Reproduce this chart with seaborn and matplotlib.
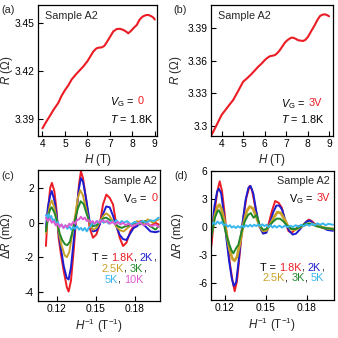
import numpy as np
import pandas as pd
import matplotlib
matplotlib.use("Agg")
import matplotlib.pyplot as plt
import matplotlib.transforms as mtransforms
import seaborn as sns

# ---------------- data ----------------
a_H = [4.0, 4.15, 4.33, 4.5, 4.7, 4.85, 5.0, 5.15, 5.3, 5.5, 5.66, 5.82, 6.0, 6.13, 6.26, 6.4,
       6.52, 6.63, 6.75, 6.87, 7.0, 7.15, 7.3, 7.45, 7.6, 7.72, 7.82, 7.95, 8.08, 8.2, 8.33,
       8.45, 8.6, 8.72, 8.85, 8.95, 9.0]
a_R = [3.3843, 3.388, 3.392, 3.396, 3.400, 3.4045, 3.408, 3.411, 3.4147, 3.418, 3.4204, 3.4228,
       3.426, 3.429, 3.432, 3.434, 3.4345, 3.4346, 3.4355, 3.438, 3.441, 3.4445, 3.446, 3.4462,
       3.4455, 3.4445, 3.4434, 3.445, 3.447, 3.4486, 3.452, 3.4537, 3.4547, 3.4548, 3.454,
       3.453, 3.452]

b_H = [3.51, 3.75, 4.0, 4.27, 4.54, 4.77, 5.0, 5.2, 5.39, 5.55, 5.7, 5.85, 6.01, 6.13, 6.25,
       6.37, 6.48, 6.6, 6.71, 6.83, 6.94, 7.05, 7.17, 7.25, 7.33, 7.45, 7.56, 7.68, 7.79, 7.9,
       8.02, 8.17, 8.33, 8.45, 8.57, 8.68, 8.8, 8.9, 9.0]
b_R = [3.2908, 3.300, 3.310, 3.317, 3.3238, 3.332, 3.3405, 3.344, 3.3476, 3.351, 3.3543, 3.357,
       3.3604, 3.3625, 3.364, 3.3645, 3.365, 3.367, 3.3696, 3.373, 3.3763, 3.3785, 3.3802,
       3.381, 3.381, 3.380, 3.3787, 3.3783, 3.378, 3.379, 3.3818, 3.387, 3.3924, 3.397,
       3.4007, 3.402, 3.4025, 3.4018, 3.4007]

# panel (c): V_G = 0
c_18 = [(0.1115, -1.35), (0.113, 0.68), (0.1148, 2.03), (0.1161, 2.32), (0.118, 1.84), (0.1195, 0.87),
        (0.1213, -0.87), (0.1231, -1.84), (0.1252, -2.8), (0.1277, -3.77), (0.129, -4.0), (0.1308, -3.38),
        (0.1329, -1.64), (0.135, 0.48), (0.137, 2.22), (0.1385, 3.0), (0.1401, 2.6), (0.1427, 1.26),
        (0.1452, -0.29), (0.1478, -0.87), (0.1504, -0.68), (0.153, -0.1), (0.1555, 1.06), (0.1581, 1.64),
        (0.1607, 1.45), (0.1633, 1.06), (0.1658, -0.1), (0.1684, -0.87), (0.171, -1.35), (0.1736, -1.16),
        (0.1767, -0.48), (0.1792, -0.19), (0.1818, -0.1), (0.1844, 0.1), (0.1882, 0.0), (0.1921, -0.19),
        (0.196, 0.0), (0.1985, -0.1)]
c_2 = [(0.1115, -0.3), (0.113, 0.9), (0.1148, 1.6), (0.116, 1.85), (0.118, 1.3), (0.1195, 0.6),
       (0.1213, -0.6), (0.1231, -1.5), (0.1252, -2.5), (0.1275, -3.2), (0.129, -3.3), (0.1308, -2.6),
       (0.133, -1.0), (0.135, 0.7), (0.137, 2.0), (0.1385, 2.6), (0.1401, 2.4), (0.1427, 1.3),
       (0.1452, 0.1), (0.1478, -0.5), (0.1504, -0.45), (0.153, -0.1), (0.1555, 0.5), (0.158, 0.95),
       (0.1607, 0.9), (0.1633, 0.4), (0.1658, -0.2), (0.1684, -0.7), (0.171, -0.95), (0.1736, -1.0),
       (0.1767, -0.6), (0.1792, -0.3), (0.1818, -0.2), (0.1844, 0.05), (0.1882, -0.2), (0.1921, -0.5),
       (0.196, -0.55), (0.1985, -0.5)]
c_25 = [(0.1115, -0.6), (0.113, 0.4), (0.1148, 1.1), (0.116, 1.3), (0.118, 0.9), (0.1195, 0.3),
        (0.1213, -0.5), (0.1235, -1.3), (0.126, -1.9), (0.1277, -2.0), (0.1295, -1.7), (0.1315, -0.8),
        (0.134, 0.4), (0.136, 1.4), (0.138, 1.9), (0.14, 1.6), (0.1425, 0.8), (0.145, 0.0),
        (0.1478, -0.4), (0.1505, -0.3), (0.1535, 0.1), (0.1558, 0.4), (0.158, 0.55), (0.1605, 0.4),
        (0.1635, 0.05), (0.166, -0.25), (0.169, -0.45), (0.1715, -0.5), (0.1745, -0.3), (0.178, -0.1),
        (0.182, 0.1), (0.186, -0.1), (0.19, 0.2), (0.194, 0.0), (0.1985, 0.2)]
c_3 = [(0.1115, -0.5), (0.113, 0.3), (0.1148, 0.8), (0.116, 0.9), (0.118, 0.6), (0.12, 0.1),
       (0.122, -0.6), (0.124, -1.0), (0.1262, -1.25), (0.128, -1.3), (0.13, -1.1), (0.132, -0.5),
       (0.134, 0.2), (0.136, 0.8), (0.1383, 1.25), (0.1405, 1.1), (0.143, 0.5), (0.1455, 0.0),
       (0.148, -0.2), (0.1505, -0.15), (0.153, 0.05), (0.1558, 0.25), (0.158, 0.3), (0.161, 0.15),
       (0.164, 0.0), (0.167, -0.2), (0.17, -0.3), (0.173, -0.2), (0.176, -0.15), (0.18, 0.0),
       (0.184, -0.1), (0.188, 0.1), (0.192, -0.2), (0.196, -0.4), (0.1985, -0.2)]
c_5 = [(0.1115, 0.45), (0.1125, 0.3), (0.1135, 0.5), (0.1145, 0.25), (0.1155, 0.4), (0.117, 0.1),
       (0.118, 0.2), (0.119, -0.1), (0.1205, 0.05), (0.122, -0.2), (0.1235, -0.1), (0.125, -0.3),
       (0.1265, -0.15), (0.128, -0.35), (0.1295, -0.2), (0.131, -0.4), (0.1325, -0.25), (0.134, -0.35),
       (0.1355, -0.2), (0.137, -0.4), (0.1385, -0.3), (0.14, -0.45), (0.1415, -0.3), (0.143, -0.5),
       (0.1445, -0.3), (0.146, -0.2), (0.1475, 0.05), (0.149, -0.1), (0.1505, 0.1), (0.152, 0.0),
       (0.154, 0.15), (0.156, 0.0), (0.158, 0.1), (0.16, -0.05), (0.162, 0.1), (0.164, 0.0),
       (0.166, 0.15), (0.168, -0.05), (0.17, 0.1), (0.172, 0.0), (0.174, 0.1), (0.177, -0.1),
       (0.18, 0.05), (0.183, -0.05), (0.186, 0.1), (0.189, 0.0), (0.192, 0.15), (0.195, 0.1),
       (0.1985, 0.3)]
c_10 = [(0.1115, 0.3), (0.113, 0.1), (0.1145, 0.25), (0.116, 0.0), (0.1175, 0.1), (0.119, -0.15),
        (0.1205, -0.05), (0.122, -0.25), (0.1235, -0.1), (0.125, -0.3), (0.1265, -0.15), (0.128, -0.25),
        (0.1295, -0.05), (0.131, -0.15), (0.1325, 0.05), (0.134, -0.05), (0.1355, 0.15), (0.137, 0.2),
        (0.1385, 0.35), (0.14, 0.2), (0.1415, 0.3), (0.143, 0.1), (0.1445, 0.15), (0.146, 0.0),
        (0.1475, 0.1), (0.149, -0.05), (0.151, 0.1), (0.153, 0.0), (0.155, 0.15), (0.157, 0.05),
        (0.159, 0.1), (0.161, -0.05), (0.163, 0.05), (0.165, -0.1), (0.167, 0.05), (0.169, -0.1),
        (0.171, 0.0), (0.173, -0.15), (0.175, -0.05), (0.178, -0.2), (0.181, -0.1), (0.184, 0.0),
        (0.187, -0.15), (0.19, -0.05), (0.193, -0.2), (0.196, -0.1), (0.1985, -0.25)]

# panel (d): V_G = 3V
d_18 = [(0.11, -2.0), (0.1124, 1.7), (0.1144, 3.86), (0.1161, 4.9), (0.1178, 3.86), (0.1198, 1.36),
        (0.1217, -1.5), (0.1237, -4.0), (0.1256, -5.8), (0.1271, -6.86), (0.1288, -5.8), (0.1308, -2.9),
        (0.1332, 0.64), (0.1357, 3.14), (0.1381, 4.4), (0.1398, 4.0), (0.1423, 2.07), (0.1447, 0.29),
        (0.1472, -0.43), (0.1496, -0.6), (0.152, 0.29), (0.1545, 1.71), (0.1569, 2.79), (0.1594, 2.6),
        (0.1618, 2.07), (0.1643, 0.46), (0.1667, -0.43), (0.1692, -0.6), (0.1717, -0.25), (0.1741, 0.1),
        (0.1766, 0.1), (0.179, 0.46), (0.1815, 0.8), (0.1839, 0.64), (0.1864, 0.29), (0.1888, 0.1),
        (0.1913, -0.07), (0.1937, -0.07), (0.1962, -0.25), (0.1994, -0.25)]
d_2 = [(0.11, -1.0), (0.1122, 2.2), (0.1142, 3.8), (0.1155, 4.1), (0.1172, 3.6), (0.119, 1.6),
       (0.121, -1.2), (0.123, -3.6), (0.125, -5.5), (0.1265, -6.3), (0.1282, -5.9), (0.1302, -3.4),
       (0.1325, 0.0), (0.135, 2.8), (0.1372, 4.2), (0.1388, 4.4), (0.1408, 3.6), (0.143, 1.7),
       (0.1455, 0.0), (0.148, -0.7), (0.1505, -0.6), (0.153, 0.4), (0.1555, 1.6), (0.1578, 2.3),
       (0.16, 2.3), (0.1622, 1.8), (0.1648, 0.5), (0.1672, -0.4), (0.1698, -0.8), (0.1722, -0.7),
       (0.1748, -0.3), (0.1775, 0.2), (0.18, 0.6), (0.1825, 0.7), (0.1848, 0.4), (0.1872, 0.2),
       (0.19, 0.1), (0.1925, -0.1), (0.195, -0.3), (0.1994, -0.4)]
d_25 = [(0.11, -0.8), (0.1125, 1.2), (0.1145, 2.2), (0.1158, 2.4), (0.1175, 1.9), (0.1195, 0.7),
        (0.1215, -1.0), (0.1235, -2.5), (0.1255, -3.4), (0.127, -3.6), (0.1288, -3.2), (0.131, -1.7),
        (0.1335, 0.3), (0.136, 1.7), (0.1382, 2.2), (0.1405, 2.0), (0.143, 1.1), (0.1455, 0.1),
        (0.148, -0.4), (0.1505, -0.35), (0.153, 0.2), (0.1558, 1.0), (0.1585, 1.6), (0.161, 1.5),
        (0.1635, 0.9), (0.166, 0.2), (0.1685, -0.2), (0.171, -0.3), (0.1735, -0.15), (0.1765, 0.1),
        (0.18, 0.3), (0.1835, 0.35), (0.187, 0.2), (0.19, 0.05), (0.1935, -0.1), (0.1965, -0.15),
        (0.1994, -0.2)]
d_3 = [(0.11, -1.0), (0.1125, 1.0), (0.1145, 1.7), (0.1155, 1.8), (0.1172, 1.3), (0.119, 0.4),
       (0.121, -0.8), (0.123, -1.8), (0.1248, -2.5), (0.1262, -2.8), (0.128, -2.3), (0.1298, -1.9),
       (0.132, -0.6), (0.1345, 0.6), (0.137, 1.3), (0.139, 1.5), (0.141, 1.0), (0.1432, 1.3),
       (0.1455, 0.2), (0.148, -0.3), (0.1505, -0.2), (0.153, 0.2), (0.1555, 0.6), (0.158, 0.9),
       (0.1605, 0.9), (0.163, 0.6), (0.166, 0.1), (0.169, -0.2), (0.172, -0.2), (0.175, 0.0),
       (0.178, 0.3), (0.181, 0.4), (0.184, 0.3), (0.187, 0.1), (0.19, 0.0), (0.193, -0.1),
       (0.1994, -0.2)]
d_5 = [(0.11, 0.2), (0.1115, 0.5), (0.113, 0.3), (0.1145, 0.6), (0.116, 0.35), (0.1175, 0.55),
       (0.119, 0.2), (0.1205, 0.3), (0.122, 0.05), (0.1235, 0.2), (0.125, -0.05), (0.1265, 0.1),
       (0.128, -0.1), (0.1295, 0.1), (0.131, -0.05), (0.1325, 0.15), (0.134, 0.0), (0.1355, 0.2),
       (0.137, 0.05), (0.1385, 0.25), (0.14, 0.05), (0.1415, 0.25), (0.143, 0.1), (0.1445, 0.3),
       (0.146, 0.1), (0.1475, 0.3), (0.149, 0.1), (0.1505, 0.25), (0.152, 0.0), (0.1535, 0.2),
       (0.155, -0.05), (0.1565, 0.15), (0.158, -0.05), (0.16, 0.15), (0.162, -0.05), (0.164, 0.15),
       (0.166, 0.0), (0.168, 0.15), (0.17, 0.0), (0.172, 0.2), (0.174, 0.05), (0.176, 0.25),
       (0.178, 0.1), (0.18, 0.3), (0.182, 0.15), (0.184, 0.35), (0.186, 0.2), (0.188, 0.4),
       (0.19, 0.25), (0.192, 0.4), (0.194, 0.2), (0.196, 0.35), (0.1994, 0.25)]

c_temps = ["1.8K", "2K", "2.5K", "3K", "5K", "10K"]
d_temps = ["1.8K", "2K", "2.5K", "3K", "5K"]
c_series = [c_18, c_2, c_25, c_3, c_5, c_10]
d_series = [d_18, d_2, d_25, d_3, d_5]

colors = {"1.8K": "#ec1c24", "2K": "#1c1cd0", "2.5K": "#c9a128", "3K": "#22882a",
          "5K": "#38b6f0", "10K": "#dc5cd2"}

# ---------------- style ----------------
sns.set_theme(style="ticks")
plt.rcParams["font.family"] = ["Liberation Sans", "DejaVu Sans"]
plt.rcParams["mathtext.fontset"] = "custom"
plt.rcParams["mathtext.rm"] = "Liberation Sans"
plt.rcParams["mathtext.it"] = "Liberation Sans:italic"
plt.rcParams["mathtext.bf"] = "Liberation Sans:bold"

TICK = 7.4
TXT = 7.8
LAB = 8.4

fig = plt.figure(figsize=(3.38, 3.38), dpi=100)
fig.patch.set_facecolor("white")
fig.canvas.draw()
RENDERER = fig.canvas.get_renderer()
PIX = mtransforms.IdentityTransform()


def ax_at(l, r, t, b):
    return fig.add_axes([l / 338, 1 - b / 338, (r - l) / 338, (b - t) / 338])


def style(ax):
    ax.set_facecolor("white")
    for s in ax.spines.values():
        s.set_linewidth(0.9)
        s.set_color("black")
    ax.tick_params(direction="in", length=3.5, width=0.8, labelsize=TICK, pad=2.5,
                   top=False, right=False, colors="black")


def text_w(ax, s, size):
    if not s:
        return 0.0
    t = ax.text(0, 0, s, fontsize=size, transform=PIX)
    w = t.get_window_extent(renderer=RENDERER).width
    t.remove()
    return w


def rich(ax, pieces, x, y, ha, size=TXT):
    """Draw a line of text made of differently coloured pieces."""
    full = "".join(s for s, _ in pieces)
    W = text_w(ax, full, size)
    X0, Y0 = ax.transAxes.transform((x, y))
    start = X0 - {"left": 0.0, "center": W / 2, "right": W}[ha]
    ref = text_w(ax, "x", size)
    prefix = ""
    for s, c in pieces:
        off = (text_w(ax, prefix + "x", size) - ref) if prefix else 0.0
        ax.text(start + off, Y0, s, color=c, fontsize=size, transform=PIX,
                ha="left", va="center_baseline")
        prefix += s


K = "black"
RED = colors["1.8K"]

# ---------------- (a) ----------------
ax = ax_at(38, 157, 5, 136)
sns.lineplot(x=a_H, y=a_R, ax=ax, color=RED, lw=1.5, sort=False, estimator=None)
ax.set_xlim(3.8, 9.1)
ax.set_ylim(3.3795, 3.461)
ax.set_xticks([4, 5, 6, 7, 8, 9])
ax.set_yticks([3.39, 3.42, 3.45])
ax.set_yticklabels(["3.39", "3.42", "3.45"])
style(ax)
ax.set_xlabel("$H$ (T)", fontsize=LAB, labelpad=2)
ax.set_ylabel("$R$ (Ω)", fontsize=LAB)
ax.yaxis.set_label_coords(-0.19, 0.5)
ax.text(0.06, 0.916, "Sample A2", transform=ax.transAxes, fontsize=TXT, va="center", ha="left")
rich(ax, [("$V_\\mathrm{G}$ = ", K), ("0", RED)], 0.605, 0.275, "left")
rich(ax, [("$T$ = 1.8K", K)], 0.605, 0.137, "left")

# ---------------- (b) ----------------
ax = ax_at(211, 332.5, 5, 136)
sns.lineplot(x=b_H, y=b_R, ax=ax, color=RED, lw=1.5, sort=False, estimator=None)
ax.set_xlim(3.51, 9.16)
ax.set_ylim(3.2908, 3.411)
ax.set_xticks([4, 5, 6, 7, 8, 9])
ax.set_yticks([3.30, 3.33, 3.36, 3.39])
ax.set_yticklabels(["3.3", "3.33", "3.36", "3.39"])
style(ax)
ax.set_xlabel("$H$ (T)", fontsize=LAB, labelpad=2)
ax.set_ylabel("$R$ (Ω)", fontsize=LAB)
ax.yaxis.set_label_coords(-0.225, 0.5)
ax.text(0.06, 0.916, "Sample A2", transform=ax.transAxes, fontsize=TXT, va="center", ha="left")
rich(ax, [("$V_\\mathrm{G}$ = ", K), ("3V", RED)], 0.574, 0.26, "left")
rich(ax, [("$T$ = 1.8K", K)], 0.574, 0.137, "left")

# ---------------- (c) ----------------
ax = ax_at(37.5, 160, 170, 301)
for t, ser in zip(c_temps, c_series):
    df = pd.DataFrame(ser, columns=["x", "y"])
    sns.lineplot(data=df, x="x", y="y", ax=ax, color=colors[t], lw=1.4, sort=False, estimator=None)
ax.set_xlim(0.105, 0.1995)
ax.set_ylim(-4.55, 3.07)
ax.set_xticks([0.12, 0.15, 0.18])
ax.set_xticklabels(["0.12", "0.15", "0.18"])
ax.set_yticks([-4, -2, 0, 2])
ax.set_yticklabels(["-4", "-2", "0", "2"])
style(ax)
ax.set_xlabel("$H^{-1}$ (T$^{-1}$)", fontsize=LAB, labelpad=2)
ax.set_ylabel("Δ$R$ (mΩ)", fontsize=LAB)
ax.yaxis.set_label_coords(-0.18, 0.5)
ax.text(0.975, 0.916, "Sample A2", transform=ax.transAxes, fontsize=TXT, va="center", ha="right")
rich(ax, [("V$_\\mathrm{G}$ = ", K), ("0", RED)], 0.975, 0.794, "right")
rich(ax, [("T = ", K), ("1.8K", colors["1.8K"]), (", ", K), ("2K", colors["2K"]), (",", K)],
     0.706, 0.336, "center")
rich(ax, [("2.5K", colors["2.5K"]), (", ", K), ("3K", colors["3K"]), (",", K)], 0.706, 0.254, "center")
rich(ax, [("5K", colors["5K"]), (", ", K), ("10K", colors["10K"])], 0.706, 0.168, "center")

# ---------------- (d) ----------------
ax = ax_at(211, 333.5, 171, 300)
for t, ser in zip(d_temps, d_series):
    df = pd.DataFrame(ser, columns=["x", "y"])
    lw = 2.0 if t == "2.5K" else 1.4
    sns.lineplot(data=df, x="x", y="y", ax=ax, color=colors[t], lw=lw, sort=False, estimator=None)
ax.set_xlim(0.1097, 0.1998)
ax.set_ylim(-7.8, 6.0)
ax.set_xticks([0.12, 0.15, 0.18])
ax.set_xticklabels(["0.12", "0.15", "0.18"])
ax.set_yticks([-6, -3, 0, 3, 6])
ax.set_yticklabels(["-6", "-3", "0", "3", "6"])
style(ax)
ax.set_xlabel("$H^{-1}$ (T$^{-1}$)", fontsize=LAB, labelpad=2)
ax.set_ylabel("Δ$R$ (mΩ)", fontsize=LAB)
ax.yaxis.set_label_coords(-0.205, 0.5)
ax.text(0.971, 0.922, "Sample A2", transform=ax.transAxes, fontsize=TXT, va="center", ha="right")
rich(ax, [("V$_\\mathrm{G}$ = ", K), ("3V", RED)], 0.971, 0.798, "right")
rich(ax, [("T = ", K), ("1.8K", colors["1.8K"]), (", ", K), ("2K", colors["2K"]), (",", K)],
     0.922, 0.256, "right")
rich(ax, [("2.5K", colors["2.5K"]), (", ", K), ("3K", colors["3K"]), (", ", K), ("5K", colors["5K"])],
     0.922, 0.176, "right")

# panel labels
for lbl, x, y in [("(a)", 1, 10), ("(b)", 173, 10), ("(c)", 1, 176), ("(d)", 174, 176)]:
    fig.text(x / 338, 1 - y / 338, lbl, fontsize=TXT, ha="left", va="center")

fig.savefig("out.png", dpi=100, facecolor="white")
